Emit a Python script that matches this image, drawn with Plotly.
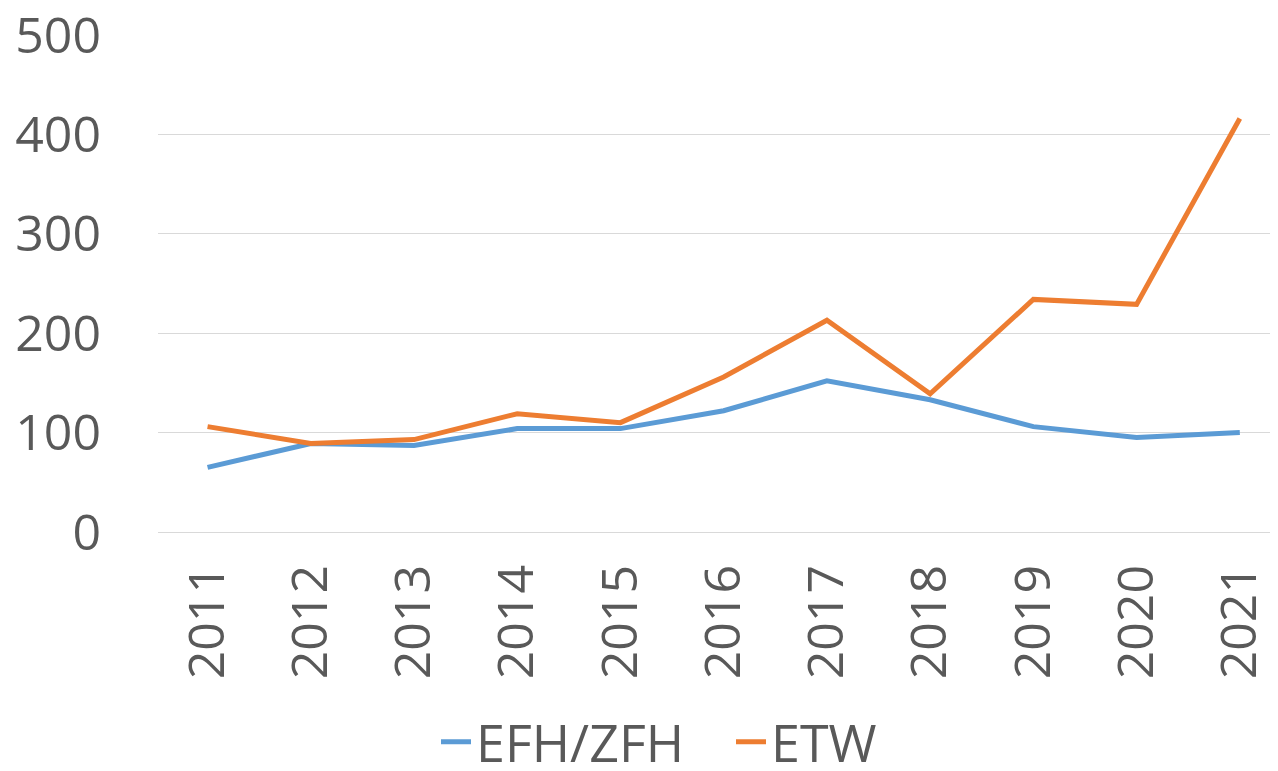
import plotly.graph_objects as go

years = ["2011", "2012", "2013", "2014", "2015", "2016", "2017", "2018", "2019", "2020", "2021"]
efh_zfh = [65, 89, 87, 104, 104, 122, 152, 133, 106, 95, 100]
etw = [106, 89, 93, 119, 110, 156, 213, 139, 234, 229, 416]
y_ticks = [0, 100, 200, 300, 400, 500]

text_color = "#595959"
font_family = "Open Sans, Liberation Sans, Arial, sans-serif"
fsize = 50

fig = go.Figure()
fig.add_trace(go.Scatter(x=years, y=efh_zfh, name="EFH/ZFH", mode="lines",
                         line=dict(color="#5B9BD5", width=5)))
fig.add_trace(go.Scatter(x=years, y=etw, name="ETW", mode="lines",
                         line=dict(color="#ED7D31", width=5)))

# page body has an 8px default margin, so the figure is 8px smaller
fig.update_layout(
    width=1270, height=763,
    margin=dict(l=150, r=0, t=27, b=239),
    paper_bgcolor="white", plot_bgcolor="white",
    font=dict(family=font_family, color=text_color, size=fsize),
    showlegend=True,
    legend=dict(orientation="h", x=428 / 1270, xref="container", xanchor="left",
                y=0.038, yref="container", yanchor="middle", entrywidth=250,
                font=dict(size=52, color=text_color), traceorder="normal"),
    xaxis=dict(type="category", range=[-0.48, 10.37], tickangle=-90, showgrid=False,
               showline=False, ticks="", automargin=False, ticklabelstandoff=22,
               ticklabeloverflow="allow",
               tickfont=dict(size=fsize, color=text_color)),
    yaxis=dict(range=[0, 500], tickvals=y_ticks, showgrid=True, gridcolor="#D9D9D9",
               gridwidth=1.3, zeroline=True, zerolinecolor="#D9D9D9", zerolinewidth=1.3,
               showline=False, ticks="", ticklabelstandoff=56, automargin=False,
               ticklabeloverflow="allow",
               tickfont=dict(size=fsize, color=text_color)),
)

fig.write_html("out.html")
